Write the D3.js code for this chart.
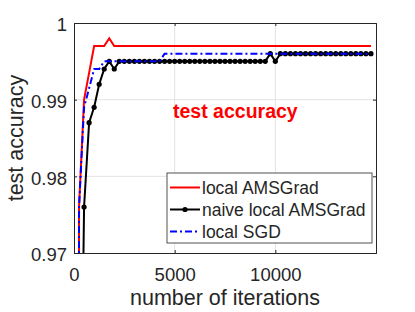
<!DOCTYPE html>
<meta charset="utf-8">
<style>
  body { margin: 0; background: #fff; }
  svg { display: block; font-family: "Liberation Sans", Arial, sans-serif; }
  .tick text { fill: #262626; font-size: 18.5px; }
</style>
<body>
<script src="https://d3js.org/d3.v7.min.js"></script>
<script>
// iterations, sampled every 250
const iters = [
  0, 250, 500, 750, 1000, 1250, 1500, 1750, 2000, 2250,
  2500, 2750, 3000, 3250, 3500, 3750, 4000, 4250, 4500, 4750,
  5000, 5250, 5500, 5750, 6000, 6250, 6500, 6750, 7000, 7250,
  7500, 7750, 8000, 8250, 8500, 8750, 9000, 9250, 9500, 9750,
  10000, 10250, 10500, 10750, 11000, 11250, 11500, 11750, 12000, 12250,
  12500, 12750, 13000, 13250, 13500, 13750, 14000, 14250, 14500, 14750
];

const localAMSGrad = [
  0.100, 0.976, 0.990, 0.9935, 0.997, 0.997, 0.997, 0.998, 0.997, 0.997,
  0.997, 0.997, 0.997, 0.997, 0.997, 0.997, 0.997, 0.997, 0.997, 0.997,
  0.997, 0.997, 0.997, 0.997, 0.997, 0.997, 0.997, 0.997, 0.997, 0.997,
  0.997, 0.997, 0.997, 0.997, 0.997, 0.997, 0.997, 0.997, 0.997, 0.997,
  0.997, 0.997, 0.997, 0.997, 0.997, 0.997, 0.997, 0.997, 0.997, 0.997,
  0.997, 0.997, 0.997, 0.997, 0.997, 0.997, 0.997, 0.997, 0.997, 0.997
];

const naiveAMSGrad = [
  0.100, 0.925, 0.976, 0.987, 0.989, 0.992, 0.994, 0.995, 0.994, 0.995,
  0.995, 0.995, 0.995, 0.995, 0.995, 0.995, 0.995, 0.995, 0.995, 0.995,
  0.995, 0.995, 0.995, 0.995, 0.995, 0.995, 0.995, 0.995, 0.995, 0.995,
  0.995, 0.995, 0.995, 0.995, 0.995, 0.995, 0.995, 0.995, 0.995, 0.996,
  0.995, 0.996, 0.996, 0.996, 0.996, 0.996, 0.996, 0.996, 0.996, 0.996,
  0.996, 0.996, 0.996, 0.996, 0.996, 0.996, 0.996, 0.996, 0.996, 0.996
];

const localSGD = [
  0.100, 0.976, 0.989, 0.9915, 0.994, 0.994, 0.995, 0.995, 0.995, 0.995,
  0.995, 0.995, 0.995, 0.995, 0.995, 0.995, 0.995, 0.995, 0.996, 0.996,
  0.996, 0.996, 0.996, 0.996, 0.996, 0.996, 0.996, 0.996, 0.996, 0.996,
  0.996, 0.996, 0.996, 0.996, 0.996, 0.996, 0.996, 0.996, 0.996, 0.996,
  0.996, 0.996, 0.996, 0.996, 0.996, 0.996, 0.996, 0.996, 0.996, 0.996,
  0.996, 0.996, 0.996, 0.996, 0.996, 0.996, 0.996, 0.996, 0.996, 0.996
];

const xTicks = [0, 5000, 10000];
const yTicks = [0.97, 0.98, 0.99, 1];
const legendLabels = ['local AMSGrad', 'naive local AMSGrad', 'local SGD'];

const W = 415, H = 312;
const m = { left: 74, top: 23, right: 39, bottom: 59 };
const w = W - m.left - m.right, h = H - m.top - m.bottom;
const axisCol = '#262626';

const svg = d3.select('body').append('svg')
  .attr('width', W).attr('height', H);

const x = d3.scaleLinear().domain([0, 15000]).range([0, w]);
const y = d3.scaleLinear().domain([0.97, 1]).range([h, 0]);

const g = svg.append('g').attr('transform', `translate(${m.left},${m.top})`);

g.append('clipPath').attr('id', 'clip')
  .append('rect').attr('width', w).attr('height', h);

// grid
g.append('g').selectAll('line').data(xTicks.slice(1)).join('line')
  .attr('x1', d => x(d)).attr('x2', d => x(d))
  .attr('y1', 0).attr('y2', h)
  .attr('stroke', '#e3e3e3').attr('stroke-width', 1);
g.append('g').selectAll('line').data(yTicks.slice(1, -1)).join('line')
  .attr('y1', d => y(d)).attr('y2', d => y(d))
  .attr('x1', 0).attr('x2', w)
  .attr('stroke', '#e3e3e3').attr('stroke-width', 1);

// axes, ticks inward
const fmtY = d => d === 1 ? '1' : d3.format('.2f')(d);
const xAxis = g.append('g').attr('transform', `translate(0,${h})`)
  .call(d3.axisBottom(x).tickValues(xTicks).tickSize(-3).tickPadding(10).tickFormat(d3.format('d')));
const yAxis = g.append('g')
  .call(d3.axisLeft(y).tickValues(yTicks).tickSize(-3).tickPadding(7).tickFormat(fmtY));
g.append('g').call(d3.axisTop(x).tickValues(xTicks).tickSize(-3).tickFormat(''));
g.append('g').attr('transform', `translate(${w},0)`)
  .call(d3.axisRight(y).tickValues(yTicks).tickSize(-3).tickFormat(''));
g.selectAll('.domain, .tick line').attr('stroke', axisCol);
xAxis.selectAll('.tick text').attr('dy', '0.95em');
yAxis.selectAll('.tick text').attr('dy', '0.42em');

// series
const series = [
  { vals: localAMSGrad, color: '#ff0000', dash: null, marker: false },
  { vals: naiveAMSGrad, color: '#000000', dash: null, marker: true },
  { vals: localSGD, color: '#0000ff', dash: '7,3,2,3', marker: false }
];
const plot = g.append('g').attr('clip-path', 'url(#clip)');
const line = d3.line().x(d => x(d[0])).y(d => y(d[1]));

series.forEach(s => {
  const pts = iters.map((it, i) => [it, s.vals[i]]);
  plot.append('path').datum(pts)
    .attr('d', line)
    .attr('fill', 'none')
    .attr('stroke', s.color)
    .attr('stroke-width', 2)
    .attr('stroke-dasharray', s.dash);
  if (s.marker) {
    plot.append('g').selectAll('circle').data(pts).join('circle')
      .attr('cx', d => x(d[0])).attr('cy', d => y(d[1]))
      .attr('r', 2.6).attr('fill', s.color);
  }
});

// annotation
g.append('text')
  .attr('x', 99).attr('y', 94.5)
  .attr('fill', '#ff0000')
  .attr('font-weight', 'bold')
  .attr('font-size', '19.5px')
  .text('test accuracy');

// axis labels
svg.append('text')
  .attr('x', m.left + w / 2).attr('y', 305)
  .attr('text-anchor', 'middle')
  .attr('fill', axisCol).attr('font-size', '21.5px')
  .text('number of iterations');
svg.append('text')
  .attr('transform', `translate(23,${m.top + h / 2}) rotate(-90)`)
  .attr('text-anchor', 'middle')
  .attr('fill', axisCol).attr('font-size', '21.5px')
  .text('test accuracy');

// legend
const lg = svg.append('g').attr('transform', 'translate(167,173)');
lg.append('rect').attr('width', 205).attr('height', 70)
  .attr('fill', '#fff').attr('stroke', axisCol).attr('stroke-width', 0.8);
legendLabels.forEach((lab, i) => {
  const s = series[i];
  const cy = 14.5 + i * 22;
  lg.append('line')
    .attr('x1', 3).attr('x2', 33).attr('y1', cy).attr('y2', cy)
    .attr('stroke', s.color).attr('stroke-width', 2)
    .attr('stroke-dasharray', s.dash);
  if (s.marker) {
    lg.append('circle').attr('cx', 18).attr('cy', cy).attr('r', 2.6).attr('fill', s.color);
  }
  lg.append('text')
    .attr('x', 35).attr('y', cy + 6)
    .attr('fill', axisCol).attr('font-size', '17.5px')
    .text(lab);
});
</script>
</body>
